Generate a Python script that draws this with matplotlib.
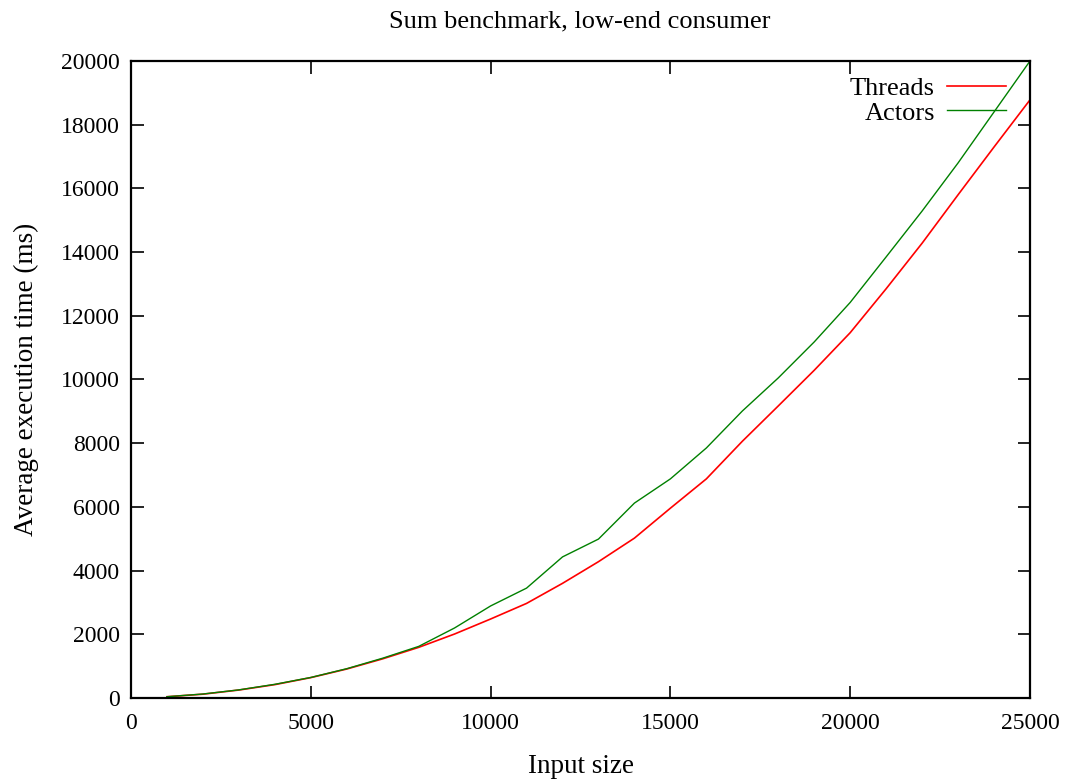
import matplotlib
matplotlib.use("Agg")
import matplotlib.pyplot as plt

input_size = [1000, 2000, 3000, 4000, 5000, 6000, 7000, 8000, 9000, 10000,
              11000, 12000, 13000, 14000, 15000, 16000, 17000, 18000, 19000,
              20000, 21000, 22000, 23000, 24000, 25000]
threads = [40, 120, 250, 420, 640, 910, 1230, 1590, 2010, 2480,
           2970, 3600, 4280, 5020, 5960, 6880, 8060, 9170, 10290,
           11470, 12850, 14280, 15800, 17300, 18780]
actors = [40, 125, 255, 430, 645, 920, 1250, 1620, 2200, 2890,
          3450, 4430, 4990, 6120, 6880, 7850, 9010, 10050, 11180,
          12420, 13850, 15290, 16800, 18400, 20000]
x_ticks = [0, 5000, 10000, 15000, 20000, 25000]
y_ticks = list(range(0, 20001, 2000))

plt.rcParams['font.family'] = ['Liberation Serif', 'DejaVu Serif']

fig = plt.figure(figsize=(10.65, 7.81), dpi=100)
ax = fig.add_axes([131/1065, 1 - 698/781, (1030-131)/1065, (698-61)/781])

ax.plot(input_size, threads, color='#ff0000', lw=1.2, label='Threads')
ax.plot(input_size, actors, color='#008000', lw=1.0, label='Actors')

ax.set_xlim(0, 25000)
ax.set_ylim(0, 20000)
ax.set_xticks(x_ticks)
ax.set_yticks(y_ticks)
ax.tick_params(direction='in', length=9, width=1.2, top=True, right=True,
               labelsize=17, pad=8)
ax.tick_params(axis='x', pad=11)
for s in ax.spines.values():
    s.set_linewidth(1.6)

fig.text(580/1065, 1 - 21/781, 'Sum benchmark, low-end consumer',
         ha='center', va='center', fontsize=19)
ax.set_xlabel('Input size', fontsize=19.5, labelpad=14)
ax.set_ylabel('Average execution time (ms)', fontsize=19.5, labelpad=16)

leg = ax.legend(loc='upper right', frameon=False, markerfirst=False,
                handlelength=2.25, handletextpad=0.45, labelspacing=0.05,
                borderaxespad=0.3, fontsize=19, bbox_to_anchor=(0.994, 1.005))
for t in leg.get_texts():
    t.set_ha('right')

fig.savefig('out.png', dpi=100)
